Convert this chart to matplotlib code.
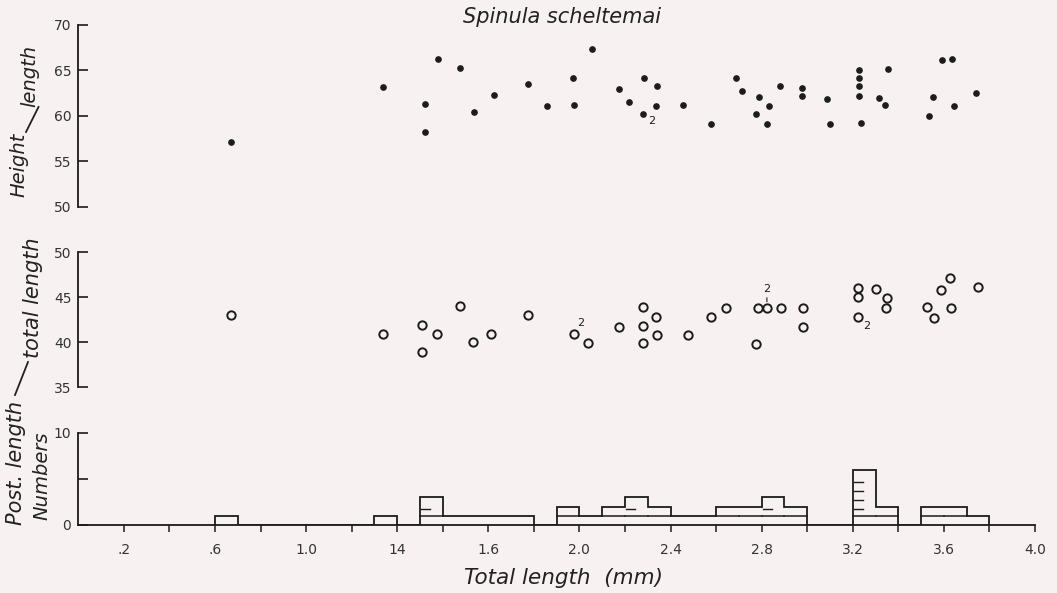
import matplotlib
matplotlib.use("Agg")
import matplotlib.pyplot as plt
from matplotlib.lines import Line2D
import numpy as np

# ---------------- data ----------------
# Height/length (%) vs total length (mm)
hl_x = [0.47, 1.137, 1.321, 1.320, 1.380, 1.475, 1.536, 1.623, 1.773, 1.858, 1.972, 1.977,
        2.054, 2.174, 2.218, 2.282, 2.281, 2.342, 2.338, 2.456, 2.579, 2.687, 2.714, 2.789,
        2.775, 2.832, 2.823, 2.880, 2.979, 2.979, 3.086, 3.102, 3.228, 3.227, 3.227, 3.228,
        3.234, 3.354, 3.317, 3.343, 3.591, 3.637, 3.554, 3.536, 3.643, 3.741]
hl_y = [57.1, 63.14, 61.27, 58.19, 66.26, 65.30, 60.39, 62.30, 63.47, 61.08, 64.20, 61.23,
        67.33, 62.96, 61.52, 64.20, 60.20, 63.32, 61.05, 61.16, 59.14, 64.20, 62.77, 62.07,
        60.24, 61.12, 59.07, 63.32, 63.07, 62.18, 61.85, 59.10, 65.08, 64.13, 63.32, 62.18,
        59.21, 65.16, 61.96, 61.19, 66.15, 66.29, 62.04, 59.95, 61.12, 62.48]

# Posterior length / total length (%) vs total length (mm)
pl_x = [0.47, 1.137, 1.311, 1.311, 1.376, 1.477, 1.534, 1.613, 1.775, 1.974, 2.038, 2.172,
        2.279, 2.279, 2.279, 2.335, 2.342, 2.477, 2.578, 2.642, 2.784, 2.823, 2.776, 2.887,
        2.982, 2.981, 3.222, 3.222, 3.224, 3.304, 3.349, 3.345, 3.526, 3.555, 3.586, 3.628,
        3.630, 3.750]
pl_y = [43.0, 40.92, 41.89, 38.92, 40.92, 44.0, 40.03, 40.92, 43.0, 40.89, 39.96, 41.73,
        43.96, 41.81, 39.96, 42.84, 40.81, 40.84, 42.81, 43.81, 43.81, 43.81, 39.84, 43.81,
        43.81, 41.7, 46.0, 45.03, 42.78, 45.96, 44.96, 43.81, 43.89, 42.74, 45.84, 47.11,
        43.81, 46.14]

# histogram of numbers per 0.1 mm class (left edge of class, count)
hist_left = [0.4, 1.1, 1.3, 1.4, 1.5, 1.6, 1.7, 1.9, 2.0, 2.1, 2.2, 2.3, 2.4, 2.5,
             2.6, 2.7, 2.8, 2.9, 3.2, 3.3, 3.5, 3.6, 3.7]
hist_count = [1, 1, 3, 1, 1, 1, 1, 2, 1, 2, 3, 2, 1, 1,
              2, 2, 3, 2, 6, 2, 2, 2, 1]
bin_width = 0.1

# axis tick labels as printed on the original figure
xtick_pos = [0.0, 0.4, 0.8, 1.2, 1.6, 2.0, 2.4, 2.8, 3.2, 3.6, 4.0]
xtick_lab = [".2", ".6", "1.0", "14", "1.6", "2.0", "2.4", "2.8", "3.2", "3.6", "4.0"]
minor_pos = [0.2, 0.6, 1.0, 1.4, 1.8, 2.2, 2.6, 3.0, 3.4, 3.8]
top_yticks = [50, 55, 60, 65, 70]
mid_yticks = [35, 40, 45, 50]
bot_yticks = [0, 5, 10]
bot_ylabels = ["0", "", "10"]

# ---------------- style ----------------
INK = "#1c1c1c"
BG = "#f8f1f1"
plt.rcParams["font.family"] = ["DejaVu Sans"]
W, H = 1057, 593

fig = plt.figure(figsize=(W / 100, H / 100), dpi=100, facecolor=BG)


def box(l, r, top_px, bot_px):
    return [l / W, 1 - bot_px / H, (r - l) / W, (bot_px - top_px) / H]


ax1 = fig.add_axes(box(78.3, 1035, 25, 206.7))
ax2 = fig.add_axes(box(78.3, 1035, 252.3, 387.3))
ax3 = fig.add_axes(box(78.3, 1035, 432.7, 525))

for ax in (ax1, ax2, ax3):
    ax.set_facecolor("none")
    ax.set_xlim(-0.2, 4.0)
    for s in ("top", "right", "bottom"):
        ax.spines[s].set_visible(False)
    ax.spines["left"].set_color(INK)
    ax.spines["left"].set_linewidth(1.3)
    ax.tick_params(axis="y", direction="in", length=7, width=1.2, colors=INK,
                   labelsize=10, pad=5, labelcolor="#333333")

# top panel
ax1.set_ylim(50, 70)
ax1.set_yticks(top_yticks)
ax1.set_xticks([])
ax1.plot(hl_x, hl_y, "o", ms=3.8, color=INK, ls="none")
ax1.annotate("2", (hl_x[16], hl_y[16]), xytext=(6, -5), textcoords="offset points",
             ha="center", va="center", fontsize=8, color=INK)

# middle panel
ax2.set_ylim(35, 50)
ax2.set_yticks(mid_yticks)
ax2.set_xticks([])
ax2.plot(pl_x, pl_y, "o", ms=6.0, mfc="none", mec=INK, mew=1.4, ls="none")
ax2.annotate("2", (pl_x[9], pl_y[9]), xytext=(5.3, 8), textcoords="offset points",
             ha="center", va="center", fontsize=8, color=INK)
ax2.annotate("2", (pl_x[28], pl_y[28]), xytext=(6.3, -6.3), textcoords="offset points",
             ha="center", va="center", fontsize=8, color=INK)
ax2.annotate("2", (pl_x[21], pl_y[21]), xytext=(0, 13.5), textcoords="offset points",
             ha="center", va="center", fontsize=8, color=INK,
             arrowprops=dict(arrowstyle="-", lw=0.8, color=INK, shrinkA=0.5, shrinkB=4.5))

# bottom histogram
ax3.set_ylim(0, 10)
ax3.set_yticks(bot_yticks)
ax3.set_yticklabels(bot_ylabels)
ax3.spines["bottom"].set_visible(True)
ax3.spines["bottom"].set_color(INK)
ax3.spines["bottom"].set_linewidth(1.3)
ax3.set_xticks(xtick_pos)
ax3.set_xticklabels(xtick_lab)
ax3.set_xticks(minor_pos, minor=True)
ax3.tick_params(axis="x", which="both", direction="out", length=5, width=1.1,
                colors=INK, labelsize=10, pad=8, labelcolor="#333333")

# contiguous class grid so that equal neighbouring classes share one outline
n_cls = int(round((max(hist_left) - min(hist_left)) / bin_width)) + 1
grid_left = min(hist_left)
edges = grid_left + bin_width * np.arange(n_cls + 1)
full = np.zeros(n_cls)
for left, c in zip(hist_left, hist_count):
    full[int(round((left - grid_left) / bin_width))] = c
ax3.stairs(full, edges, baseline=0, fill=False, color=INK, lw=1.3)

for left, c in zip(hist_left, hist_count):
    for k in range(1, c):
        if k == 1:
            ax3.plot([left, left + bin_width], [k, k], color=INK, lw=1.1)
        else:
            ax3.plot([left + 0.005, left + 0.045], [k - 0.3, k - 0.3], color=INK, lw=1.0)

# ---------------- texts ----------------
TXT = "#222222"
fig.text(562 / W, 1 - 17 / H, "Spinula scheltemai", ha="center", va="center",
         style="italic", fontsize=15, color=TXT)
fig.text(563 / W, 1 - 578 / H, "Total length  (mm)", ha="center", va="center",
         style="italic", fontsize=15.5, color=TXT)

# y-axis labels (rotated, with hand-drawn slash)
fig.text(19 / W, 1 - 165 / H, "Height", rotation=90, ha="center", va="center",
         style="italic", fontsize=14, color=TXT)
fig.text(30 / W, 1 - 76 / H, "length", rotation=90, ha="center", va="center",
         style="italic", fontsize=14, color=TXT)
fig.add_artist(Line2D([26 / W, 38.5 / W], [1 - 132 / H, 1 - 107 / H],
                      transform=fig.transFigure, color=TXT, lw=1.3))

fig.text(16 / W, 1 - 463 / H, "Post. length", rotation=90, ha="center", va="center",
         style="italic", fontsize=15, color=TXT)
fig.text(33 / W, 1 - 298 / H, "total length", rotation=90, ha="center", va="center",
         style="italic", fontsize=15, color=TXT)
fig.add_artist(Line2D([15 / W, 28 / W], [1 - 395 / H, 1 - 362 / H],
                      transform=fig.transFigure, color=TXT, lw=1.3))
fig.text(42 / W, 1 - 476 / H, "Numbers", rotation=90, ha="center", va="center",
         style="italic", fontsize=14, color=TXT)

fig.savefig("out.png", dpi=100, facecolor=BG)
